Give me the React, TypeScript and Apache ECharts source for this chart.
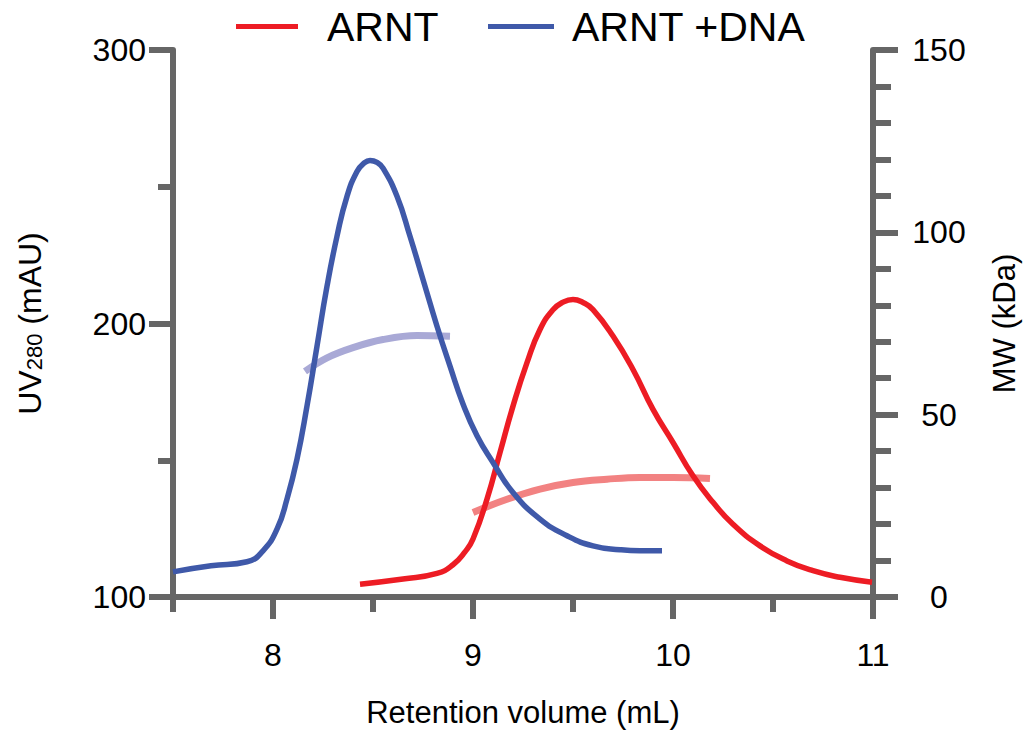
import React, { useEffect, useRef } from "react";
import * as echarts from "echarts";

// ARNT (red) UV280 trace
const arntVolume = [8.435, 8.65, 8.82, 8.9, 8.96, 9.0, 9.07, 9.135, 9.2, 9.27, 9.335, 9.4, 9.45, 9.5, 9.55, 9.6, 9.7, 9.8, 9.9, 10.0, 10.1, 10.2, 10.3, 10.435, 10.57, 10.7, 10.835, 10.995];
const arntUV = [104.7, 106.6, 108.6, 111.8, 116.5, 121.2, 135.8, 152.8, 169.8, 185.7, 197.8, 205.0, 207.8, 208.8, 207.7, 205.1, 195.4, 183.2, 168.6, 156.5, 144.3, 134.6, 126.6, 118.7, 113.2, 109.6, 107.2, 105.4];

// ARNT +DNA (blue) UV280 trace
const dnaVolume = [7.5, 7.69, 7.87, 7.95, 8.02, 8.07, 8.12, 8.17, 8.22, 8.27, 8.32, 8.37, 8.42, 8.455, 8.485, 8.52, 8.55, 8.62, 8.685, 8.75, 8.82, 8.885, 8.95, 9.02, 9.1, 9.2, 9.335, 9.47, 9.6, 9.735, 9.835, 9.945];
const dnaUV = [109.2, 111.4, 112.9, 116.9, 124.8, 135.8, 150.4, 169.8, 191.7, 213.6, 231.9, 246.5, 255.6, 258.6, 259.6, 258.9, 256.8, 246.5, 231.9, 216.1, 199.0, 184.4, 170.6, 159.0, 149.2, 138.2, 128.5, 122.4, 118.7, 117.3, 116.9, 116.9];

// MW traces (right axis, kDa)
const arntMWVolume = [9.0, 9.17, 9.335, 9.5, 9.67, 9.835, 10.0, 10.185];
const arntMW = [23.2, 26.8, 29.6, 31.4, 32.3, 32.8, 32.8, 32.5];
const dnaMWVolume = [8.16, 8.27, 8.4, 8.55, 8.72, 8.885];
const dnaMW = [61.9, 65.6, 68.4, 70.6, 71.7, 71.5];

// Axis ticks
const xMajorTicks = [8, 9, 10, 11];
const xMinorTicks = [7.5, 8.5, 9.5, 10.5];

const FONT = "Liberation Sans, Arial, sans-serif";
const AXIS_COLOR = "#666666";
const RED = "#ED1C24";
const BLUE = "#3F59A9";
const LIGHT_RED = "#F28282";
const LIGHT_BLUE = "#A9A9D6";

const zip = (xs: number[], ys: number[]) => xs.map((x, i) => [x, ys[i]]);

export default function App() {
  const ref = useRef<HTMLDivElement>(null);
  useEffect(() => {
    if (!ref.current) return;
    const chart = echarts.init(ref.current, undefined, { renderer: "svg" });
    const axisLine = { show: true, lineStyle: { color: AXIS_COLOR, width: 6 } };
    const labelStyle = { color: "#000", fontFamily: FONT, fontSize: 32 };
    const nameStyle = { color: "#000", fontFamily: FONT, fontSize: 31 };
    chart.setOption({
      animation: false,
      backgroundColor: "#fff",
      textStyle: { fontFamily: FONT },
      grid: { left: 173, right: 158, top: 50, bottom: 135, containLabel: false },
      legend: [
        {
          data: ["ARNT"],
          left: 236,
          top: 6,
          padding: 0,
          icon: "rect",
          itemWidth: 62,
          itemHeight: 5,
          textStyle: { fontSize: 41, fontFamily: FONT, color: "#000", padding: [0, 0, 0, 24] },
        },
        {
          data: ["ARNT +DNA"],
          left: 488,
          top: 6,
          padding: 0,
          icon: "rect",
          itemWidth: 66,
          itemHeight: 5,
          textStyle: { fontSize: 41, fontFamily: FONT, color: "#000", padding: [0, 0, 0, 13] },
        },
      ],
      xAxis: [
        {
          type: "value",
          min: 7.5,
          max: 11,
          interval: 0.5,
          name: "Retention volume (mL)",
          nameLocation: "middle",
          nameGap: 100,
          nameTextStyle: nameStyle,
          axisLine,
          axisTick: { show: true, customValues: xMajorTicks, length: 22, lineStyle: { color: AXIS_COLOR, width: 6 } },
          axisLabel: { ...labelStyle, customValues: xMajorTicks, margin: 42 },
          splitLine: { show: false },
        },
        {
          type: "value",
          min: 7.5,
          max: 11,
          interval: 0.5,
          position: "bottom",
          axisLine: { show: false },
          axisTick: { show: true, customValues: xMinorTicks, length: 15, lineStyle: { color: AXIS_COLOR, width: 6 } },
          axisLabel: { show: false },
          splitLine: { show: false },
        },
      ],
      yAxis: [
        {
          type: "value",
          min: 100,
          max: 300,
          interval: 100,
          position: "left",
          name: "{a|UV}{b|280}{a| (mAU)}",
          nameLocation: "middle",
          nameGap: 127,
          nameRotate: 90,
          nameTextStyle: {
            ...nameStyle,
            rich: {
              a: { fontSize: 32, fontFamily: FONT, color: "#000" },
              b: { fontSize: 22, fontFamily: FONT, color: "#000", padding: [8, 0, 0, 0] },
            },
          },
          axisLine,
          axisTick: { show: true, length: 24, lineStyle: { color: AXIS_COLOR, width: 6 } },
          minorTick: { show: true, splitNumber: 2, length: 15, lineStyle: { color: AXIS_COLOR, width: 6 } },
          axisLabel: { ...labelStyle, margin: 27 },
          splitLine: { show: false },
          minorSplitLine: { show: false },
        },
        {
          type: "value",
          min: 0,
          max: 150,
          interval: 50,
          position: "right",
          name: "MW (kDa)",
          nameLocation: "middle",
          nameGap: 116,
          nameRotate: 90,
          nameTextStyle: nameStyle,
          axisLine,
          axisTick: { show: true, length: 25, lineStyle: { color: AXIS_COLOR, width: 6 } },
          minorTick: { show: true, splitNumber: 5, length: 18, lineStyle: { color: AXIS_COLOR, width: 6 } },
          axisLabel: { ...labelStyle, margin: 66, align: "center" },
          splitLine: { show: false },
          minorSplitLine: { show: false },
        },
      ],
      series: [
        {
          name: "ARNT MW",
          type: "line",
          yAxisIndex: 1,
          data: zip(arntMWVolume, arntMW),
          showSymbol: false,
          smooth: 0.4,
          lineStyle: { color: LIGHT_RED, width: 7 },
          itemStyle: { color: LIGHT_RED },
          z: 2,
        },
        {
          name: "ARNT +DNA MW",
          type: "line",
          yAxisIndex: 1,
          data: zip(dnaMWVolume, dnaMW),
          showSymbol: false,
          smooth: 0.4,
          lineStyle: { color: LIGHT_BLUE, width: 7 },
          itemStyle: { color: LIGHT_BLUE },
          z: 2,
        },
        {
          name: "ARNT",
          type: "line",
          yAxisIndex: 0,
          data: zip(arntVolume, arntUV),
          showSymbol: false,
          smooth: 0.5,
          lineStyle: { color: RED, width: 5.5 },
          itemStyle: { color: RED },
          z: 3,
        },
        {
          name: "ARNT +DNA",
          type: "line",
          yAxisIndex: 0,
          data: zip(dnaVolume, dnaUV),
          showSymbol: false,
          smooth: 0.5,
          lineStyle: { color: BLUE, width: 5.5 },
          itemStyle: { color: BLUE },
          z: 3,
        },
      ],
    });
    return () => chart.dispose();
  }, []);
  return <div ref={ref} style={{ width: 1031, height: 733, position: "absolute", left: 0, top: 0 }} />;
}
